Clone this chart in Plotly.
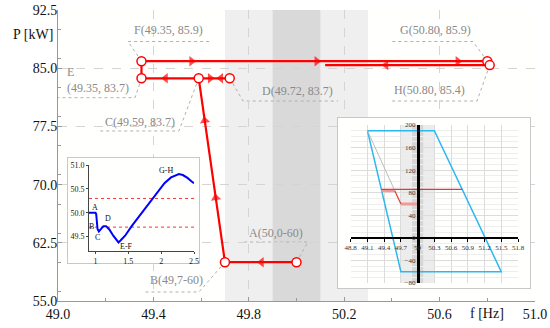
import plotly.graph_objects as go

# ---------------- data ----------------
# operating points of the main P-f chart
point_names = ["A", "B", "C", "D", "E", "F", "G", "H"]
point_f = [50.00, 49.70, 49.59, 49.72, 49.35, 49.35, 50.80, 50.81]
point_p = [60.0, 60.0, 83.7, 83.7, 83.7, 85.9, 85.9, 85.4]

# trajectory followed (A-B-C-D-C-E-F-G-H and back along 85.4 kW)
path_f = [50.00, 49.70, 49.59, 49.72, 49.59, 49.35, 49.35, 50.80, 50.81, 50.12]
path_p = [60.0, 60.0, 83.7, 83.7, 83.7, 83.7, 85.9, 85.9, 85.4, 85.4]

# arrow heads: (segment index in the path, fraction along the segment)
arrow_seg = [0, 1, 1, 2, 3, 4, 6, 6, 6, 8]
arrow_frac = [0.49, 0.35, 0.77, 0.37, 0.29, 0.58, 0.145, 0.507, 0.915, 0.63]

# callout labels
callout_text = ["F(49.35, 85.9)", "G(50.80, 85.9)", "H(50.80, 85.4)", "E<br>(49.35, 83.7)",
                "D(49.72, 83.7)", "C(49.59, 83.7)", "B(49,7-60)", "A(50,0-60)"]
callout_point = [5, 6, 7, 4, 3, 2, 1, 0]

# inset 1: frequency vs time
time_s = [0.90, 1.00, 1.01, 1.02, 1.03, 1.05, 1.08, 1.12, 1.16, 1.21, 1.27, 1.32, 1.35,
          1.38, 1.45, 1.55, 1.65, 1.75, 1.85, 1.95, 2.05, 2.15, 2.22, 2.27, 2.33, 2.40,
          2.46, 2.50]
freq_hz = [50.00, 50.00, 49.97, 49.80, 49.66, 49.61, 49.65, 49.72, 49.72, 49.65, 49.52,
           49.42, 49.38, 49.42, 49.52, 49.72, 49.90, 50.08, 50.26, 50.45, 50.62, 50.74,
           50.79, 50.81, 50.79, 50.73, 50.66, 50.62]
inset1_labels = ["A", "B", "C", "D", "E-F", "G-H"]
inset1_limits = [50.3, 49.7]

# inset 2: P(f) characteristic
char_f = [49.1, 50.3, 51.5, 49.7, 49.1]
char_p = [190, 190, -60, -60, 190]
inset2_xticks = [48.8, 49.1, 49.4, 49.7, 50.0, 50.3, 50.6, 50.9, 51.2, 51.5, 51.8]
inset2_xtext = ["48.8", "49.1", "49.4", "49.7", "50", "50.3", "50.6", "50.9", "51.2", "51.5", "51.8"]

# dead bands
band_wide = [49.7, 50.3]
band_narrow = [49.9, 50.1]

# ---------------- styling/layout constants ----------------
SERIF = "Liberation Serif"
RED = "#ff0000"
GREY_TXT = "#8a8a8a"

callout_pos = [  # (text x, text y, elbow x, elbow y, underline end x)
    (49.309, 89.92, 49.2935, 88.44, 49.646),
    (50.426, 89.92, 50.740, 88.44, 50.400),
    (50.400, 82.19, 50.757, 80.77, 50.400),
    (49.029, 83.54, 49.323, 81.20, 49.000),
    (49.847, 82.10, 49.776, 80.77, 50.174),
    (49.189, 78.07, 49.507, 76.91, 49.168),
    (49.377, 57.71, 49.591, 56.16, 49.356),
    (49.792, 63.76, 50.048, 62.60, 49.776),
]
inset1_label_pos = [(0.992, 50.115), (0.941, 49.72), (1.033, 49.48), (1.186, 49.87),
                    (1.477, 49.29), (2.079, 50.88)]

fig = go.Figure()

# ---- main chart traces ----
fig.add_trace(go.Scatter(x=path_f, y=path_p, mode="lines",
                         line=dict(color=RED, width=2.2), hoverinfo="skip",
                         showlegend=False))

ax, ay, asz = [], [], []
for s, t in zip(arrow_seg, arrow_frac):
    f0, p0, f1, p1 = path_f[s], path_p[s], path_f[s + 1], path_p[s + 1]
    ax += [f0, f0 + t * (f1 - f0)]
    ay += [p0, p0 + t * (p1 - p0)]
    asz += [0, 9]
fig.add_trace(go.Scatter(x=ax, y=ay, mode="markers",
                         marker=dict(symbol="triangle-up", size=asz, color=RED,
                                     angleref="previous", line=dict(width=0)),
                         hoverinfo="skip", showlegend=False))

fig.add_trace(go.Scatter(x=point_f, y=point_p, mode="markers",
                         marker=dict(symbol="circle", size=9, color="white",
                                     line=dict(color=RED, width=1.5)),
                         text=point_names, hoverinfo="text", showlegend=False))

# ---- inset 1 box and plot ----
fig.add_trace(go.Scatter(x=[], y=[], xaxis="x2", yaxis="y2", showlegend=False))
fig.add_trace(go.Scatter(x=time_s, y=freq_hz, xaxis="x3", yaxis="y3", mode="lines",
                         line=dict(color="#0000ff", width=2), hoverinfo="skip",
                         showlegend=False))

# ---- inset 2 box and plot ----
fig.add_trace(go.Scatter(x=[], y=[], xaxis="x4", yaxis="y4", showlegend=False))
fig.add_trace(go.Scatter(x=char_f, y=char_p, xaxis="x5", yaxis="y5", mode="lines",
                         line=dict(color="#2bb8ef", width=1.5), hoverinfo="skip",
                         showlegend=False))
fig.add_trace(go.Scatter(x=[char_f[0], point_f[2]], y=[char_p[0], point_p[2]],
                         xaxis="x5", yaxis="y5", mode="lines",
                         line=dict(color="#bdbdbd", width=1), hoverinfo="skip",
                         showlegend=False))
fig.add_trace(go.Scatter(x=[point_f[0], point_f[1], None, point_f[2], point_f[4]],
                         y=[point_p[0], point_p[1], None, point_p[2], point_p[4]],
                         xaxis="x5", yaxis="y5", mode="lines",
                         line=dict(color="#f29a9a", width=3), hoverinfo="skip",
                         showlegend=False))
fig.add_trace(go.Scatter(x=[point_f[1], point_f[2], None, point_f[5], point_f[6]],
                         y=[point_p[1], point_p[2], None, point_p[5], point_p[6]],
                         xaxis="x5", yaxis="y5", mode="lines",
                         line=dict(color="#e53935", width=1.2), hoverinfo="skip",
                         showlegend=False))

# ---------------- layout ----------------
W, H = 550, 328
ML, MR, MT, MB = 58, 15, 10, 27
PW, PH = W - ML - MR, H - MT - MB


def px_x(px):
    return (px - ML) / PW


def px_y(py):
    return (H - MB - py) / PH


box1_x = [px_x(68), px_x(199)]
box1_y = [px_y(263), px_y(158)]
in1_x = [px_x(89), px_x(194)]
in1_y = [px_y(251), px_y(165)]
box2_x = [px_x(338), px_x(530)]
box2_y = [px_y(288), px_y(118)]
in2_x = [px_x(350.7), px_x(518)]
in2_y = [px_y(283), px_y(125)]
in2_xrange = [48.8, 51.8]
in2_yrange = [-80, 200]
x5_pos = in2_y[0] + (0 - in2_yrange[0]) / (in2_yrange[1] - in2_yrange[0]) * (in2_y[1] - in2_y[0])
y5_pos = in2_x[0] + (50 - in2_xrange[0]) / (in2_xrange[1] - in2_xrange[0]) * (in2_x[1] - in2_x[0])

tickfont_main = dict(family=SERIF, size=14, color="#111111")
box_axis = dict(range=[0, 1], showline=True, mirror=True, linecolor="#c8c8c8",
                linewidth=1, showgrid=False, zeroline=False, showticklabels=False,
                ticks="", fixedrange=True, automargin=False)

fig.update_layout(
    width=W, height=H,
    margin=dict(l=ML, r=MR, t=MT, b=MB, autoexpand=False),
    paper_bgcolor="white", plot_bgcolor="#fffffe",
    showlegend=False,
    xaxis=dict(domain=[0, 1], range=[49.0, 51.0], tick0=49.0, dtick=0.4,
               tickformat=".1f", ticks="inside", ticklen=4, tickcolor="#999999",
               showline=True, linecolor="#999999", linewidth=1, automargin=False,
               showgrid=True, gridcolor="#d4d4d4", griddash="dash", gridwidth=1,
               zeroline=False, tickfont=tickfont_main,
               minor=dict(dtick=0.2, ticks="inside", ticklen=3, tickcolor="#999999",
                          showgrid=False)),
    yaxis=dict(domain=[0, 1], range=[55.0, 92.5], tick0=55.0, dtick=7.5,
               tickformat=".1f", ticks="inside", ticklen=4, tickcolor="#999999",
               showline=True, linecolor="#999999", linewidth=1, automargin=False,
               showgrid=True, gridcolor="#d4d4d4", griddash="dash", gridwidth=1,
               zeroline=False, tickfont=tickfont_main, ticklabelstandoff=-3,
               minor=dict(dtick=3.75, ticks="inside", ticklen=3, tickcolor="#999999",
                          showgrid=False)),
    xaxis2=dict(domain=box1_x, anchor="y2", **box_axis),
    yaxis2=dict(domain=box1_y, anchor="x2", **box_axis),
    xaxis3=dict(domain=in1_x, anchor="y3", range=[0.9, 2.5], tickvals=[1, 1.5, 2, 2.5],
                showline=True, linecolor="#444444", ticks="outside", ticklen=2,
                tickcolor="#444444", showgrid=False, zeroline=False, automargin=False,
                tickfont=dict(family=SERIF, size=8, color="#222222")),
    yaxis3=dict(domain=in1_y, anchor="x3", range=[49.2, 51.0],
                tickvals=[49.5, 50.0, 50.5, 51.0], tickformat=".1f",
                showline=True, linecolor="#444444", ticks="outside", ticklen=2,
                tickcolor="#444444", showgrid=False, zeroline=False, automargin=False,
                tickfont=dict(family=SERIF, size=8, color="#222222")),
    xaxis4=dict(domain=box2_x, anchor="y4", **box_axis),
    yaxis4=dict(domain=box2_y, anchor="x4", **box_axis),
    xaxis5=dict(domain=in2_x, anchor="free", position=x5_pos, range=in2_xrange,
                tickvals=inset2_xticks, ticktext=inset2_xtext, automargin=False,
                showline=True, linecolor="black", linewidth=1.5,
                ticks="outside", ticklen=3, tickcolor="black",
                showgrid=True, gridcolor="#dcdcdc", zeroline=False,
                tickfont=dict(family=SERIF, size=7, color="#333333")),
    yaxis5=dict(domain=in2_y, anchor="free", position=y5_pos, range=in2_yrange,
                tick0=-80, dtick=40, showline=True, linecolor="black", linewidth=2.5,
                ticks="", showgrid=True, gridcolor="#dcdcdc", zeroline=False,
                automargin=False,
                minor=dict(dtick=10, showgrid=True, gridcolor="#eeeeee"),
                tickfont=dict(family=SERIF, size=7, color="#333333")),
)

shapes = []
# main dead bands
shapes.append(dict(type="rect", xref="x", yref="y", x0=band_wide[0], x1=band_wide[1],
                   y0=55.0, y1=92.5, fillcolor="#efefef", line=dict(width=0), layer="below"))
shapes.append(dict(type="rect", xref="x", yref="y", x0=band_narrow[0], x1=band_narrow[1],
                   y0=55.0, y1=92.5, fillcolor="#d9d9d9", line=dict(width=0), layer="below"))
# callout leader lines
for (tx, ty, ex, ey, ux), pi in zip(callout_pos, callout_point):
    pf, pp = point_f[pi], point_p[pi]
    shapes.append(dict(type="path", xref="x", yref="y",
                       path=f"M {pf},{pp} L {ex},{ey} L {ux},{ey}",
                       line=dict(color="#b0b0b0", width=1, dash="dot"), layer="below"))
# inset 2 bands
shapes.append(dict(type="rect", xref="x5", yref="y5", x0=band_wide[0], x1=band_wide[1],
                   y0=in2_yrange[0], y1=in2_yrange[1], fillcolor="#ececec",
                   line=dict(width=0), layer="below"))
shapes.append(dict(type="rect", xref="x5", yref="y5", x0=band_narrow[0], x1=band_narrow[1],
                   y0=in2_yrange[0], y1=in2_yrange[1], fillcolor="#d6d6d6",
                   line=dict(width=0), layer="below"))
# inset 1 limit lines
for lim in inset1_limits:
    shapes.append(dict(type="line", xref="x3", yref="y3", x0=0.9, x1=2.5, y0=lim, y1=lim,
                       line=dict(color="#ff3030", width=1, dash="dot"), layer="below"))
fig.update_layout(shapes=shapes)

annotations = []
for txt, (tx, ty, ex, ey, ux) in zip(callout_text, callout_pos):
    annotations.append(dict(x=tx, y=ty, xref="x", yref="y", text=txt, showarrow=False,
                            xanchor="left", yanchor="middle", align="left",
                            font=dict(family=SERIF, size=12, color=GREY_TXT)))
for txt, (lx, ly) in zip(inset1_labels, inset1_label_pos):
    annotations.append(dict(x=lx, y=ly, xref="x3", yref="y3", text=txt, showarrow=False,
                            font=dict(family=SERIF, size=8, color="#111111")))
annotations.append(dict(x=-0.024, y=89.3, xref="paper", yref="y", text="P [kW]",
                        showarrow=False, xanchor="right", yanchor="middle", xshift=8,
                        font=dict(family=SERIF, size=14, color="#111111")))
annotations.append(dict(x=50.8, y=0, xref="x", yref="paper", text="f [Hz]",
                        showarrow=False, xanchor="center", yanchor="top", yshift=-3,
                        font=dict(family=SERIF, size=14, color="#111111")))
fig.update_layout(annotations=annotations)

fig.write_html("out.html", config={"displayModeBar": False},
               post_script="document.body.style.margin='0px';document.body.style.padding='0px';")
